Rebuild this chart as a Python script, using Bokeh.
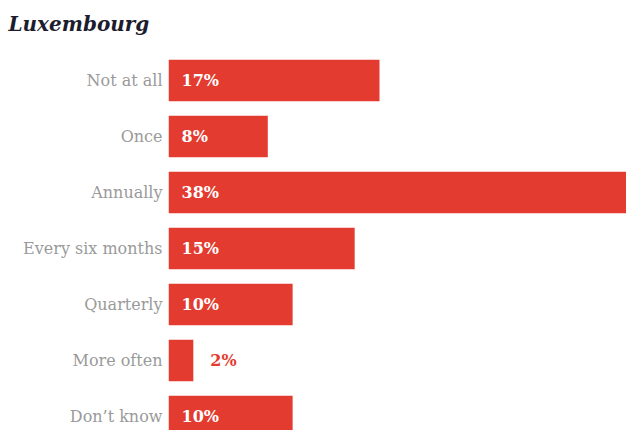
from bokeh.plotting import figure
from bokeh.models import Range1d, FixedTicker, ColumnDataSource, Title
from bokeh.embed import file_html
from bokeh.resources import INLINE
from bokeh.core.properties import value

title_text = "Luxembourg"
categories = ["Not at all", "Once", "Annually", "Every six months", "Quarterly", "More often", "Don\u2019t know"]
values = [17, 8, 38, 15, 10, 2, 10]

RED = "#e33b2f"
ys = list(range(len(categories)))
inside = [v >= 5 for v in values]
src = ColumnDataSource(dict(
    y=ys, v=values,
    lab=[f"{v}%" for v in values],
    lx=[0 if ins else v for v, ins in zip(values, inside)],
    col=["white" if ins else RED for ins in inside],
    off=[13 if ins else 17 for ins in inside],
))

p = figure(width=626, height=430, output_backend="svg", toolbar_location=None,
           x_range=Range1d(0, 36.9), y_range=Range1d(6.25, -0.786),
           min_border_left=168, min_border_right=0, min_border_bottom=0, min_border_top=36)
p.title = Title(text=title_text, text_font="DejaVu Serif", text_font_style="bold italic",
                text_font_size="20px", text_color="#1c1c2e", offset=-160, standoff=2)
p.outline_line_color = None
p.grid.visible = False
p.xaxis.visible = False
p.background_fill_color = "white"
p.border_fill_color = "white"

yax = p.yaxis[0]
yax.ticker = FixedTicker(ticks=ys)
yax.major_label_overrides = {i: c for i, c in enumerate(categories)}
yax.axis_line_color = None
yax.major_tick_line_color = None
yax.minor_tick_line_color = None
yax.major_tick_out = 0
yax.major_tick_in = 0
yax.major_label_standoff = 6
yax.major_label_text_font = "DejaVu Serif"
yax.major_label_text_font_size = "16px"
yax.major_label_text_color = "#9a9a9a"

p.hbar(y="y", right="v", left=0, height=0.74, source=src, fill_color=RED, line_color=None)
p.text(x="lx", y="y", text="lab", source=src, x_offset="off", text_color="col",
       text_font=value("DejaVu Serif"), text_font_size="16px", text_font_style="bold",
       text_baseline="middle", text_align="left")

open("out.html", "w").write(file_html(p, INLINE))
